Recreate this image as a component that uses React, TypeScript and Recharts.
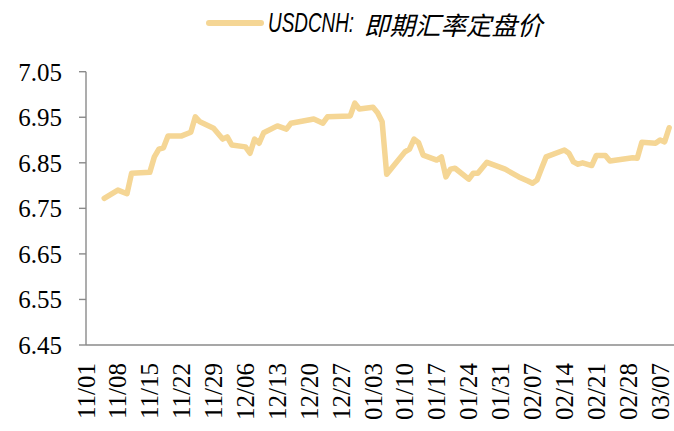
import React from "react";
import { LineChart, Line, XAxis, YAxis, Legend } from "recharts";

const seriesName = "USDCNH:即期汇率定盘价";

const dates = [
  "11/05", "11/08", "11/10", "11/11", "11/15", "11/16", "11/17", "11/18", "11/19", "11/22",
  "11/24", "11/25", "11/26", "11/29", "12/01", "12/02", "12/03", "12/06", "12/07", "12/08",
  "12/09", "12/10", "12/13", "12/15", "12/16", "12/21", "12/23", "12/24", "12/29", "12/30",
  "12/31", "01/03", "01/04", "01/05", "01/06", "01/10", "01/11", "01/12", "01/13", "01/14",
  "01/17", "01/18", "01/19", "01/20", "01/21", "01/24", "01/25", "01/26", "01/28", "02/01",
  "02/04", "02/06", "02/07", "02/08", "02/09", "02/10", "02/14", "02/15", "02/16", "02/17",
  "02/18", "02/20", "02/21", "02/23", "02/24", "03/01", "03/02", "03/03", "03/06", "03/07",
  "03/08", "03/09",
];

const values = [
  6.772, 6.790, 6.782, 6.827, 6.829, 6.863, 6.880, 6.883, 6.909, 6.909,
  6.917, 6.951, 6.940, 6.926, 6.902, 6.907, 6.889, 6.885, 6.871, 6.902,
  6.893, 6.916, 6.931, 6.924, 6.937, 6.946, 6.937, 6.951, 6.953, 6.981,
  6.968, 6.972, 6.960, 6.940, 6.825, 6.874, 6.880, 6.902, 6.894, 6.867,
  6.856, 6.863, 6.819, 6.836, 6.838, 6.814, 6.827, 6.827, 6.851, 6.836,
  6.819, 6.810, 6.805, 6.812, 6.838, 6.863, 6.878, 6.871, 6.852, 6.847,
  6.850, 6.844, 6.866, 6.866, 6.854, 6.861, 6.860, 6.895, 6.893, 6.900,
  6.896, 6.927,
];

const xTickLabels = [
  "11/01", "11/08", "11/15", "11/22", "11/29", "12/06", "12/13", "12/20", "12/27", "01/03",
  "01/10", "01/17", "01/24", "01/31", "02/07", "02/14", "02/21", "02/28", "03/07",
];

const yTicks = [6.45, 6.55, 6.65, 6.75, 6.85, 6.95, 7.05];

const START = Date.UTC(2016, 10, 1);
function dayOf(s: string): number {
  const [m, d] = s.split("/").map(Number);
  const y = m >= 11 ? 2016 : 2017;
  return Math.round((Date.UTC(y, m - 1, d) - START) / 86400000);
}

const tableData = dates.map((s, i) => ({ day: dayOf(s), label: s, value: values[i] }));
const xTicks = xTickLabels.map(dayOf);

const LINE_COLOR = "#F5D695";
const AXIS_COLOR = "#8a8a8a";

const XTick = (props: any) => {
  const { x, y, payload } = props;
  const idx = xTicks.indexOf(payload.value);
  const label = idx >= 0 ? xTickLabels[idx] : "";
  return (
    <text
      x={x}
      y={y}
      transform={`rotate(-90 ${x} ${y})`}
      textAnchor="end"
      dominantBaseline="central"
      fontSize={25}
      fontFamily="'Liberation Serif', serif"
      fill="#000"
    >
      {label}
    </text>
  );
};

const renderLegend = () => {
  const [latin, cjk] = seriesName.split(":");
  return (
    <svg width={674} height={46} style={{ display: "block" }}>
      <line x1={209} y1={23} x2={261} y2={23} stroke={LINE_COLOR} strokeWidth={6} strokeLinecap="round" />
      <g transform="translate(268 23) scale(0.7 1)">
        <text
          x={0}
          y={0}
          dominantBaseline="central"
          fontSize={27}
          fontStyle="italic"
          fontFamily="'Liberation Sans', sans-serif"
          fill="#000"
        >
          {latin + ":"}
        </text>
      </g>
      <text
        x={364}
        y={23}
        dominantBaseline="central"
        fontSize={25.5}
        fontStyle="italic"
        fontFamily="'Noto Sans CJK SC', sans-serif"
        fill="#000"
      >
        {cjk}
      </text>
    </svg>
  );
};

export default function App() {
  return (
    <div style={{ position: "absolute", left: 0, top: 0, background: "#fff" }}>
      <LineChart
        width={674}
        height={431}
        data={tableData}
        margin={{ top: 71.7, right: 0, bottom: 0, left: 0 }}
      >
        <Legend
          verticalAlign="middle"
          align="center"
          layout="horizontal"
          wrapperStyle={{ top: 0, left: 0, width: 674, height: 46 }}
          content={renderLegend}
        />
        <XAxis
          type="number"
          dataKey="day"
          domain={[0, 129.06]}
          ticks={xTicks}
          interval={0}
          height={86}
          tickLine={false}
          tickSize={0}
          tickMargin={18}
          axisLine={{ stroke: AXIS_COLOR, strokeWidth: 1.4 }}
          tick={<XTick />}
        />
        <YAxis
          type="number"
          domain={[6.45, 7.05]}
          ticks={yTicks}
          interval={0}
          width={86}
          tickSize={7}
          tickMargin={17}
          tickFormatter={(v: number) => v.toFixed(2)}
          axisLine={{ stroke: AXIS_COLOR, strokeWidth: 1.4 }}
          tickLine={{ stroke: AXIS_COLOR, strokeWidth: 1.4 }}
          tick={{ fill: "#000", fontSize: 25, fontFamily: "'Liberation Serif', serif" }}
        />
        <Line
          type="linear"
          dataKey="value"
          name={seriesName}
          stroke={LINE_COLOR}
          strokeWidth={5.5}
          strokeLinejoin="round"
          strokeLinecap="round"
          dot={false}
          activeDot={false}
          isAnimationActive={false}
        />
      </LineChart>
    </div>
  );
}
